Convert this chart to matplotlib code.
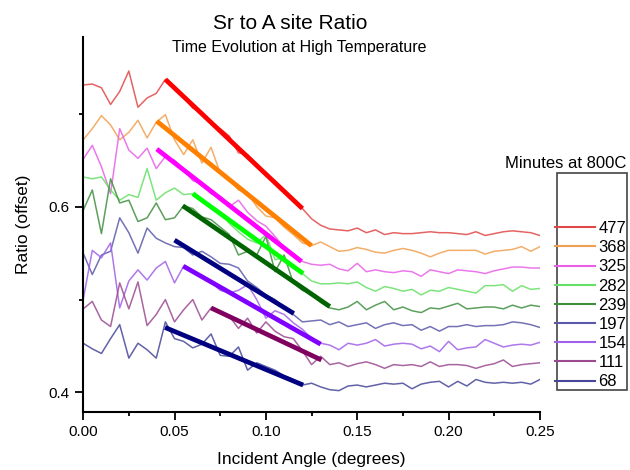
import numpy as np
import matplotlib
matplotlib.use('Agg')
import matplotlib.pyplot as plt
from matplotlib.lines import Line2D
from matplotlib.patches import Rectangle

plt.rcParams['font.family'] = ['Liberation Sans', 'DejaVu Sans']

# incident angle grid (degrees)
angle = [0.000, 0.005, 0.010, 0.015, 0.020, 0.025, 0.030, 0.035, 0.040, 0.045,
         0.050, 0.055, 0.060, 0.065, 0.070, 0.075, 0.080, 0.085, 0.090, 0.095,
         0.100, 0.105, 0.110, 0.115, 0.120, 0.125, 0.130, 0.135, 0.140, 0.145,
         0.150, 0.155, 0.160, 0.165, 0.170, 0.175, 0.180, 0.185, 0.190, 0.195,
         0.200, 0.205, 0.210, 0.215, 0.220, 0.225, 0.230, 0.235, 0.240, 0.245,
         0.250]

minutes = ['477', '368', '325', '282', '239', '197', '154', '111', '68']

# offset ratio curves, one per time step
r477 = [0.731, 0.732, 0.728, 0.710, 0.724, 0.746, 0.707, 0.717, 0.722, 0.737,
        0.727, 0.718, 0.706, 0.702, 0.689, 0.684, 0.676, 0.658, 0.656, 0.646,
        0.633, 0.628, 0.617, 0.609, 0.598, 0.587, 0.580, 0.576, 0.575, 0.574,
        0.577, 0.572, 0.575, 0.570, 0.572, 0.571, 0.571, 0.572, 0.573, 0.572,
        0.572, 0.571, 0.570, 0.573, 0.569, 0.571, 0.573, 0.574, 0.573, 0.572,
        0.569]
r368 = [0.672, 0.684, 0.698, 0.688, 0.672, 0.680, 0.693, 0.674, 0.691, 0.699,
        0.672, 0.656, 0.672, 0.647, 0.664, 0.636, 0.630, 0.618, 0.615, 0.600,
        0.590, 0.588, 0.578, 0.570, 0.561, 0.558, 0.562, 0.557, 0.552, 0.553,
        0.556, 0.554, 0.551, 0.550, 0.553, 0.555, 0.553, 0.550, 0.546, 0.550,
        0.553, 0.553, 0.553, 0.553, 0.549, 0.552, 0.553, 0.554, 0.557, 0.552,
        0.557]
r325 = [0.651, 0.666, 0.643, 0.614, 0.684, 0.661, 0.652, 0.663, 0.641, 0.654,
        0.650, 0.640, 0.628, 0.625, 0.614, 0.611, 0.600, 0.607, 0.594, 0.585,
        0.579, 0.568, 0.556, 0.548, 0.541, 0.538, 0.537, 0.538, 0.533, 0.531,
        0.539, 0.530, 0.532, 0.530, 0.529, 0.531, 0.530, 0.525, 0.532, 0.530,
        0.528, 0.532, 0.531, 0.530, 0.528, 0.531, 0.533, 0.535, 0.535, 0.534,
        0.534]
r282 = [0.632, 0.630, 0.632, 0.618, 0.607, 0.613, 0.610, 0.641, 0.607, 0.615,
        0.620, 0.613, 0.614, 0.606, 0.600, 0.594, 0.582, 0.573, 0.565, 0.561,
        0.570, 0.543, 0.545, 0.536, 0.528, 0.520, 0.517, 0.517, 0.518, 0.517,
        0.519, 0.513, 0.509, 0.514, 0.512, 0.509, 0.511, 0.505, 0.510, 0.509,
        0.513, 0.511, 0.509, 0.507, 0.515, 0.515, 0.516, 0.509, 0.515, 0.511,
        0.512]
r239 = [0.596, 0.618, 0.571, 0.630, 0.604, 0.607, 0.584, 0.588, 0.604, 0.586,
        0.588, 0.601, 0.598, 0.589, 0.586, 0.578, 0.570, 0.548, 0.552, 0.548,
        0.568, 0.530, 0.548, 0.518, 0.510, 0.506, 0.497, 0.491, 0.489, 0.492,
        0.498, 0.489, 0.494, 0.498, 0.489, 0.492, 0.488, 0.486, 0.491, 0.490,
        0.493, 0.496, 0.490, 0.491, 0.492, 0.492, 0.490, 0.494, 0.491, 0.494,
        0.4925]
r197 = [0.550, 0.527, 0.548, 0.552, 0.588, 0.572, 0.550, 0.577, 0.566, 0.561,
        0.557, 0.556, 0.548, 0.552, 0.546, 0.539, 0.538, 0.534, 0.520, 0.513,
        0.505, 0.500, 0.491, 0.484, 0.476, 0.477, 0.478, 0.473, 0.476, 0.471,
        0.473, 0.475, 0.469, 0.473, 0.475, 0.472, 0.473, 0.467, 0.471, 0.466,
        0.471, 0.471, 0.473, 0.471, 0.472, 0.472, 0.473, 0.476, 0.475, 0.473,
        0.470]
r154 = [0.500, 0.553, 0.545, 0.561, 0.491, 0.520, 0.532, 0.521, 0.534, 0.541,
        0.518, 0.536, 0.530, 0.524, 0.519, 0.510, 0.507, 0.510, 0.516, 0.500,
        0.480, 0.488, 0.484, 0.475, 0.468, 0.458, 0.453, 0.451, 0.446, 0.453,
        0.451, 0.453, 0.457, 0.450, 0.452, 0.453, 0.452, 0.447, 0.450, 0.444,
        0.455, 0.446, 0.448, 0.449, 0.457, 0.453, 0.449, 0.451, 0.452, 0.451,
        0.454]
r111 = [0.490, 0.498, 0.478, 0.471, 0.518, 0.490, 0.519, 0.472, 0.484, 0.500,
        0.476, 0.489, 0.500, 0.478, 0.491, 0.486, 0.482, 0.469, 0.480, 0.464,
        0.476, 0.466, 0.460, 0.458, 0.445, 0.430, 0.439, 0.430, 0.432, 0.428,
        0.431, 0.433, 0.430, 0.426, 0.430, 0.429, 0.430, 0.428, 0.433, 0.428,
        0.430, 0.430, 0.429, 0.426, 0.429, 0.431, 0.435, 0.428, 0.430, 0.431,
        0.432]
r68 = [0.453, 0.447, 0.442, 0.458, 0.473, 0.437, 0.453, 0.446, 0.437, 0.476,
       0.458, 0.455, 0.448, 0.452, 0.463, 0.440, 0.439, 0.449, 0.424, 0.432,
       0.428, 0.424, 0.418, 0.414, 0.408, 0.410, 0.406, 0.403, 0.402, 0.407,
       0.408, 0.406, 0.408, 0.410, 0.409, 0.410, 0.404, 0.409, 0.411, 0.412,
       0.406, 0.412, 0.407, 0.414, 0.411, 0.410, 0.411, 0.410, 0.411, 0.409,
       0.414]

# linear fits over the decay region (start/end angle and ratio)
fit_x0 = [0.045, 0.0403, 0.0403, 0.060, 0.0545, 0.050, 0.0548, 0.070, 0.0448]
fit_x1 = [0.120, 0.125, 0.1195, 0.1204, 0.135, 0.1153, 0.130, 0.1304, 0.1204]
fit_y0 = [0.737, 0.692, 0.662, 0.614, 0.601, 0.564, 0.536, 0.491, 0.470]
fit_y1 = [0.598, 0.558, 0.541, 0.528, 0.4925, 0.485, 0.452, 0.435, 0.408]

curves = [r477, r368, r325, r282, r239, r197, r154, r111, r68]
thin_colors = ['#e04848', '#f0a050', '#e860e8', '#66e066', '#3f8f3f',
               '#5a5aa8', '#a060e8', '#9a4a90', '#46469a']
fit_colors = ['#ff0000', '#ff8000', '#ff00ff', '#00ff00', '#006400',
              '#000080', '#8000ff', '#800060', '#000080']

fig = plt.figure(figsize=(6.3, 4.7), dpi=100)
ax = fig.add_axes([0.132, 0.1234, 0.725, 0.7976])

for i in range(len(curves)):
    ax.plot(angle, curves[i], color=thin_colors[i], lw=1.1, alpha=0.85)
for i in range(len(curves)):
    ax.plot([fit_x0[i], fit_x1[i]], [fit_y0[i], fit_y1[i]],
            color=fit_colors[i], lw=3.4, solid_capstyle='butt')

ax.set_xlim(0, 0.25)
ax.set_ylim(0.379, 0.7825)
ax.spines['top'].set_visible(False)
ax.spines['right'].set_visible(False)
ax.spines['left'].set_linewidth(1.5)
ax.spines['bottom'].set_linewidth(1.5)
ax.set_xticks([0.0, 0.05, 0.10, 0.15, 0.20, 0.25])
ax.set_xticklabels(['0.00', '0.05', '0.10', '0.15', '0.20', '0.25'])
ax.set_xticks([0.025, 0.075, 0.125, 0.175, 0.225], minor=True)
ax.set_yticks([0.4, 0.6])
ax.set_yticklabels(['0.4', '0.6'])
ax.set_yticks([0.5, 0.7], minor=True)
ax.tick_params(which='major', direction='out', length=6, width=1.3, labelsize=11)
ax.tick_params(which='minor', direction='out', length=3, width=1.3)
ax.set_xlabel('Incident Angle (degrees)', fontsize=12.5, labelpad=9)
ax.set_ylabel('Ratio (offset)', fontsize=12.5, labelpad=13)

fig.text(0.46, 0.951, 'Sr to A site Ratio', ha='center', va='center', fontsize=15)
fig.text(0.475, 0.898, 'Time Evolution at High Temperature', ha='center', va='center', fontsize=11.5)

# legend: box with entries in the lower part, title above the box
box = Rectangle((557 / 630, 1 - 390 / 470), 70 / 630, 217 / 470,
                transform=fig.transFigure, fill=False, edgecolor='#444444', lw=1.2)
fig.patches.append(box)
fig.text(0.995, 1 - 164 / 470, 'Minutes at 800C', ha='right', va='center', fontsize=12)
handles = [Line2D([0], [0], color=thin_colors[i], lw=1.5) for i in range(len(minutes))]
fig.legend(handles, minutes, loc='lower right', bbox_to_anchor=(1.005, 1 - 396 / 470),
           frameon=False, fontsize=12, handlelength=2.4, handletextpad=0.2,
           labelspacing=0.25, borderaxespad=0.0)

fig.savefig('out.png', dpi=100)
